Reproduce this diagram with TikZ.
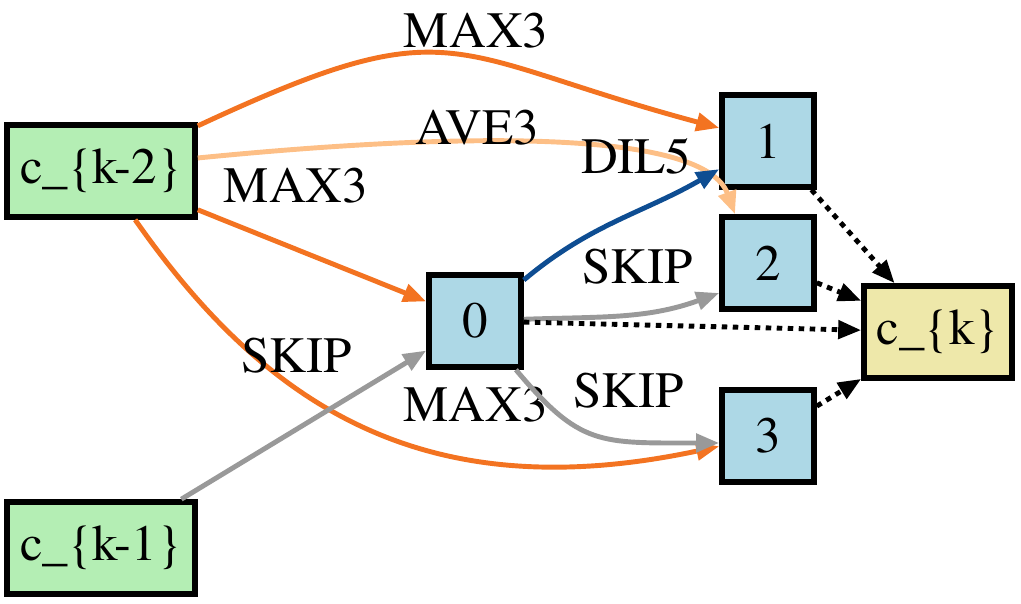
\documentclass[tikz,border=0pt]{standalone}
\usepackage{fontspec}
\setmainfont{texgyretermes}[Extension=.otf, UprightFont=*-regular]
\usetikzlibrary{arrows.meta, positioning, calc}

\definecolor{opmax}{RGB}{243,115,33}
\definecolor{opave}{RGB}{253,191,134}
\definecolor{opdil}{RGB}{14,77,146}
\definecolor{opskip}{RGB}{153,153,153}
\definecolor{inpgreen}{RGB}{180,238,180}
\definecolor{midblue}{RGB}{173,216,230}
\definecolor{outkhaki}{RGB}{238,232,170}

\begin{document}
\begin{tikzpicture}[
    font=\rmfamily\fontsize{14.5}{17}\selectfont,
    inp/.style={draw, line width=1.6pt, rectangle, inner sep=1pt, minimum width=1.88cm, minimum height=0.92cm, fill=inpgreen},
    mid/.style={draw, line width=1.6pt, rectangle, inner sep=1pt, minimum width=0.92cm, minimum height=0.92cm, fill=midblue},
    outp/.style={draw, line width=1.6pt, rectangle, inner sep=1pt, minimum width=1.48cm, minimum height=0.92cm, fill=outkhaki},
    op/.style={-{Triangle[length=2.3mm, width=1.8mm]}, line width=1.4pt},
    concat/.style={op, black, dash pattern=on 0.55mm off 0.55mm},
    lbl/.style={inner sep=1pt, text=black}
]
\useasboundingbox (0,0) rectangle (10.21,6.04);

\node[inp]  (km2) at (1.01, 4.33) {c\_\{k-2\}};
\node[inp]  (km1) at (1.01, 0.56) {c\_\{k-1\}};
\node[mid]  (n0)  at (4.75, 2.83) {0};
\node[mid]  (n1)  at (7.68, 4.63) {1};
\node[mid]  (n2)  at (7.68, 3.41) {2};
\node[mid]  (n3)  at (7.68, 1.68) {3};
\node[outp] (ck)  at (9.38, 2.72) {c\_\{k\}};

% edges from c_{k-2}
\draw[op, opmax] (km2) to[out=25, in=165, looseness=1.4]
    node[lbl, pos=.5, above, xshift=2.4mm] {MAX3} (n1);
\draw[op, opave] ([yshift=1.3mm]km2.east) .. controls (4.80,4.74) and (7.05,4.72) ..
    node[lbl, pos=.365, yshift=1.4mm] {AVE3} ([xshift=-3.3mm]n2.north);
\draw[op, opmax] (km2) -- node[lbl, pos=.43, above=4mm] {MAX3} (n0);
\draw[op, opmax] (km2) to[out=-55, in=192, out distance=2.3cm, in distance=3cm]
    node[lbl, pos=.68, above=3mm] {MAX3} (n3);

% edges from c_{k-1}
\draw[op, opskip] (km1) -- node[lbl, pos=.47, above=5mm] {SKIP} (n0);

% edges from node 0
\draw[op, opdil] (n0) to[out=40, in=210] node[lbl, pos=.5, above=4mm, xshift=1.8mm] {DIL5} (n1);
\draw[op, opskip] (n0) to[out=2, in=200] node[lbl, pos=.5, above=2.5mm, xshift=1.4mm] {SKIP} ([yshift=-3mm]n2.west);
\draw[op, opskip] (n0) to[out=-50, in=180, out distance=1cm, in distance=1.2cm]
    node[lbl, pos=.6, above=2.5mm, xshift=1.4mm] {SKIP} ([yshift=-0.7mm]n3.west);

% concatenation into c_{k}
\draw[concat] (n0) -- (ck);
\draw[concat] (n1) -- (ck);
\draw[concat] (n2) -- (ck);
\draw[concat] (n3) -- (ck);
\end{tikzpicture}
\end{document}
